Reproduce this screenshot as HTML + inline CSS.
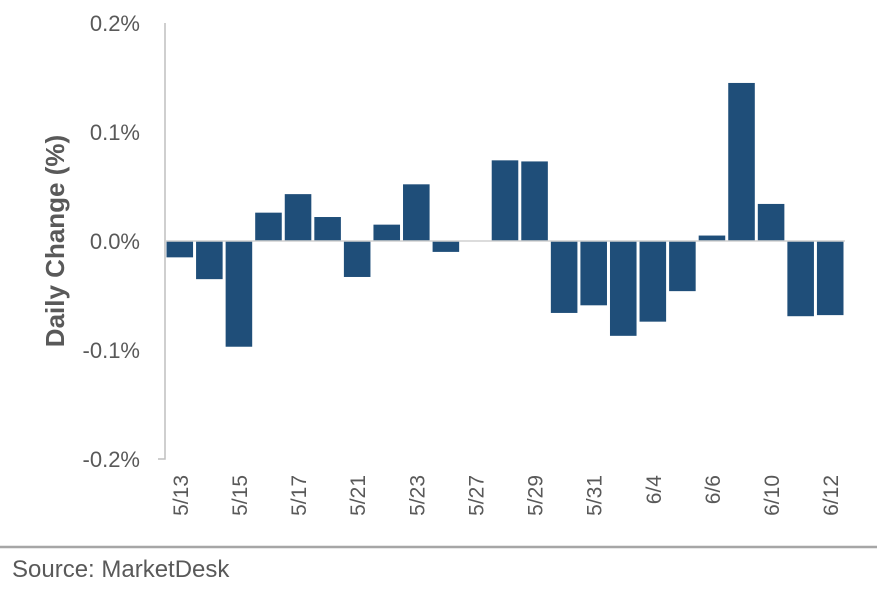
<!DOCTYPE html>
<html><head><meta charset="utf-8"><style>
body{margin:0;background:#fff;width:885px;height:589px;overflow:hidden;font-family:"Liberation Sans",Arial,sans-serif}
</style></head><body>
<svg id="chart" width="885" height="589" xmlns="http://www.w3.org/2000/svg"></svg>
<script>
const categories=["5/13","5/14","5/15","5/16","5/17","5/20","5/21","5/22","5/23","5/24","5/27","5/28","5/29","5/30","5/31","6/3","6/4","6/5","6/6","6/7","6/10","6/11","6/12"];
const values=[-0.015,-0.035,-0.097,0.026,0.043,0.022,-0.033,0.015,0.052,-0.010,0,0.074,0.073,-0.066,-0.059,-0.087,-0.074,-0.046,0.005,0.145,0.034,-0.069,-0.068];
const yTicks=[0.2,0.1,0,-0.1,-0.2];
const yTickLabels=["0.2%","0.1%","0.0%","-0.1%","-0.2%"];
const shownLabels=["5/13","5/15","5/17","5/21","5/23","5/27","5/29","5/31","6/4","6/6","6/10","6/12"];

const svg=document.getElementById('chart');
const NS="http://www.w3.org/2000/svg";
const x0=165,x1=845,yTop=23,yBot=459,vMax=0.2,vMin=-0.2;
const bw=(x1-x0)/categories.length;
const y=v=>yTop+(vMax-v)/(vMax-vMin)*(yBot-yTop);
const xc=i=>x0+bw*(i+0.5);
function mk(t,a){const e=document.createElementNS(NS,t);for(const k in a)e.setAttribute(k,a[k]);svg.appendChild(e);return e;}

yTicks.forEach((v,i)=>{
  const t=mk('text',{x:140,y:y(v)+8,'text-anchor':'end','font-size':22,fill:'#595959'});
  t.textContent=yTickLabels[i];
  
  
});
values.forEach((v,i)=>{
  const r=mk('rect',{x:xc(i)-bw/2+1.5,y:Math.min(y(v),y(0)),width:bw-3,height:Math.abs(y(v)-y(0)),fill:'#1f4e79'});
  
  
});
const ax=mk('polyline',{points:`${x0},${yTop} ${x0},${yBot} ${x0-7},${yBot}`,fill:'none',stroke:'#bfbfbf','stroke-width':1.5});


const zl=mk('line',{x1:x0,y1:y(0),x2:x1,y2:y(0),stroke:'#d0d0d0','stroke-width':1.5});


categories.forEach((c,i)=>{
  if(!shownLabels.includes(c))return;
  const t=mk('text',{x:0,y:0,'text-anchor':'end','font-size':21,fill:'#595959',transform:`translate(${xc(i)+8},475) rotate(-90)`});
  t.textContent=c;
  
  
});
const yt=mk('text',{x:0,y:0,'text-anchor':'middle','font-size':26,'font-weight':'bold',fill:'#595959',transform:`translate(64,241) rotate(-90)`});
yt.textContent="Daily Change (%)";


const sl=mk('line',{x1:0,y1:547,x2:877,y2:547,stroke:'#a6a6a6','stroke-width':2.5});


const src=mk('text',{x:12,y:577,'font-size':24,fill:'#595959'});
src.textContent="Source: MarketDesk";


</script>
</body></html>
